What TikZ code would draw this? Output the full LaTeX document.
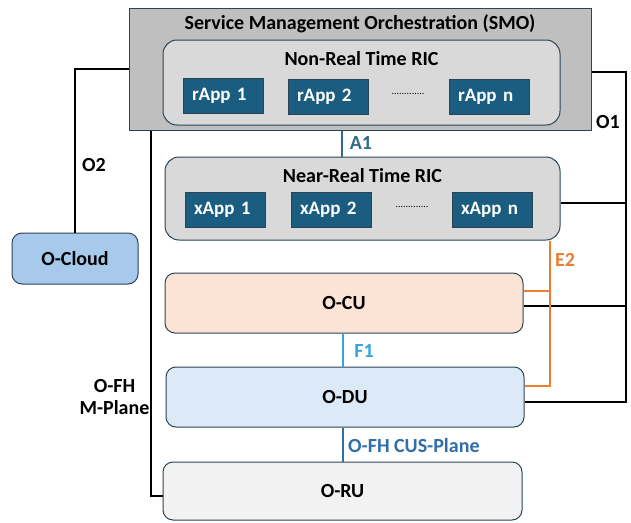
\documentclass[tikz,border=0pt]{standalone}
\usepackage{fontspec}
\setmainfont{Carlito}
\definecolor{smofill}{HTML}{BFBFBF}
\definecolor{ricfill}{HTML}{D9D9D9}
\definecolor{appfill}{HTML}{1A5D80}
\definecolor{edge}{HTML}{2C4556}
\definecolor{cloudfill}{HTML}{A7CAEC}
\definecolor{cufill}{HTML}{FBE3D6}
\definecolor{dufill}{HTML}{DCE9F6}
\definecolor{rufill}{HTML}{F2F2F2}
\definecolor{a1col}{HTML}{2E6A8A}
\definecolor{e2col}{HTML}{ED7D31}
\definecolor{f1col}{HTML}{35A4DC}
\definecolor{cuscol}{HTML}{2F6EA6}
\begin{document}
\begin{tikzpicture}[x=1pt,y=-1pt,
  every node/.style={font=\bfseries\fontsize{20}{22}\selectfont, inner sep=0pt},
  box/.style={draw=edge, line width=1pt, rounded corners=10pt},
  ricbox/.style={draw=edge, line width=1pt, rounded corners=14pt, fill=ricfill},
  appbox/.style={draw=edge, line width=1pt, fill=appfill, text=white,
    font=\bfseries\fontsize{19}{21}\selectfont,
    inner xsep=9pt, text width=62pt, align=left, minimum height=35pt},
  blk/.style={line width=2.7pt, black},
  e2line/.style={line width=2.2pt, e2col},
  lbl/.style={text=black}]
\useasboundingbox (0,0) rectangle (631,522);
% coordinates for connector geometry
\coordinate (o1tr) at (626,72);
\coordinate (o1br) at (626,402);
\coordinate (o1nrt) at (626,203);
\coordinate (o1cu) at (626,306);
\coordinate (e2x) at (550,0);
\coordinate (e2cu) at (550,291);
\coordinate (mx) at (151,0);
\coordinate (a1x) at (342,0);
\coordinate (f1x) at (343,0);

% SMO
\node[draw=edge, line width=1pt, fill=smofill, minimum width=462pt, minimum height=122pt] (smo) at (360,69) {};
\node (smot) at (360,24) {Service Management Orchestration (SMO)};
\node[ricbox, minimum width=397pt, minimum height=85pt] (nonrt) at (361.5,82.5) {};
\node (nonrtt) at (361.5,59) {Non-Real Time RIC};
\node[appbox] (r1) at (223,95.5) {rApp 1};
\node[appbox] (r2) at (328,96.5) {rApp 2};
\node[appbox] (rn) at (489,96.5) {rApp n};
\node[font=\fontsize{10}{10}\selectfont] (rdots) at (408,94) {.............};

% Near-RT RIC
\node[ricbox, minimum width=395pt, minimum height=83pt] (nrt) at (362.5,198.5) {};
\node (nrtt) at (362.5,176) {Near-Real Time RIC};
\node[appbox] (x1) at (225,209.5) {xApp 1};
\node[appbox] (x2) at (331,209.5) {xApp 2};
\node[appbox] (xn) at (492,209.5) {xApp n};
\node[font=\fontsize{10}{10}\selectfont] (xdots) at (412,207) {.............};

% O-Cloud
\node[box, fill=cloudfill, minimum width=126pt, minimum height=51pt] (ocloud) at (75,258.5) {O-Cloud};

% O-CU, O-DU, O-RU
\node[box, fill=cufill, minimum width=358pt, minimum height=60pt] (ocu) at (344,303) {O-CU};
\node[box, fill=dufill, minimum width=358pt, minimum height=60pt] (odu) at (345,397) {O-DU};
\node[box, fill=rufill, minimum width=359pt, minimum height=58pt] (oru) at (342.5,491) {O-RU};

% connectors
\draw[blk] ([yshift=-3pt]smo.east) -- (o1tr) -- (o1br) -- ([yshift=-5pt]odu.east);
\draw[blk] ([yshift=-4.5pt]nrt.east) -- (o1nrt);
\draw[blk] ([yshift=-3pt]ocu.east) -- (o1cu);
\draw[blk] (ocloud.north) |- (smo.west);
\draw[blk] (smo.south -| mx) |- ([yshift=-5pt]oru.west);
\draw[e2line] (nrt.south -| e2x) |- ([yshift=11pt]odu.east);
\draw[e2line] ([yshift=12pt]ocu.east) -- (e2cu);
\draw[line width=2pt, a1col] (smo.south -| a1x) -- (nrt.north -| a1x);
\draw[line width=2pt, f1col] (ocu.south -| f1x) -- (odu.north -| f1x);
\draw[line width=2pt, cuscol] (odu.south -| f1x) -- (oru.north -| f1x);

% labels
\node[text=a1col] (a1l) at (361,143) {A1};
\node[text=e2col] (e2l) at (565,260) {E2};
\node[text=f1col] (f1l) at (364,351) {F1};
\node[text=cuscol, anchor=west] (cusl) at (348,446) {O-FH CUS-Plane};
\node[lbl] (o1l) at (608,122) {O1};
\node[lbl] (o2l) at (94,165) {O2};
\node[lbl, align=center] (mpl) at (114.5,397.5) {O-FH\\M-Plane};
\end{tikzpicture}
\end{document}
